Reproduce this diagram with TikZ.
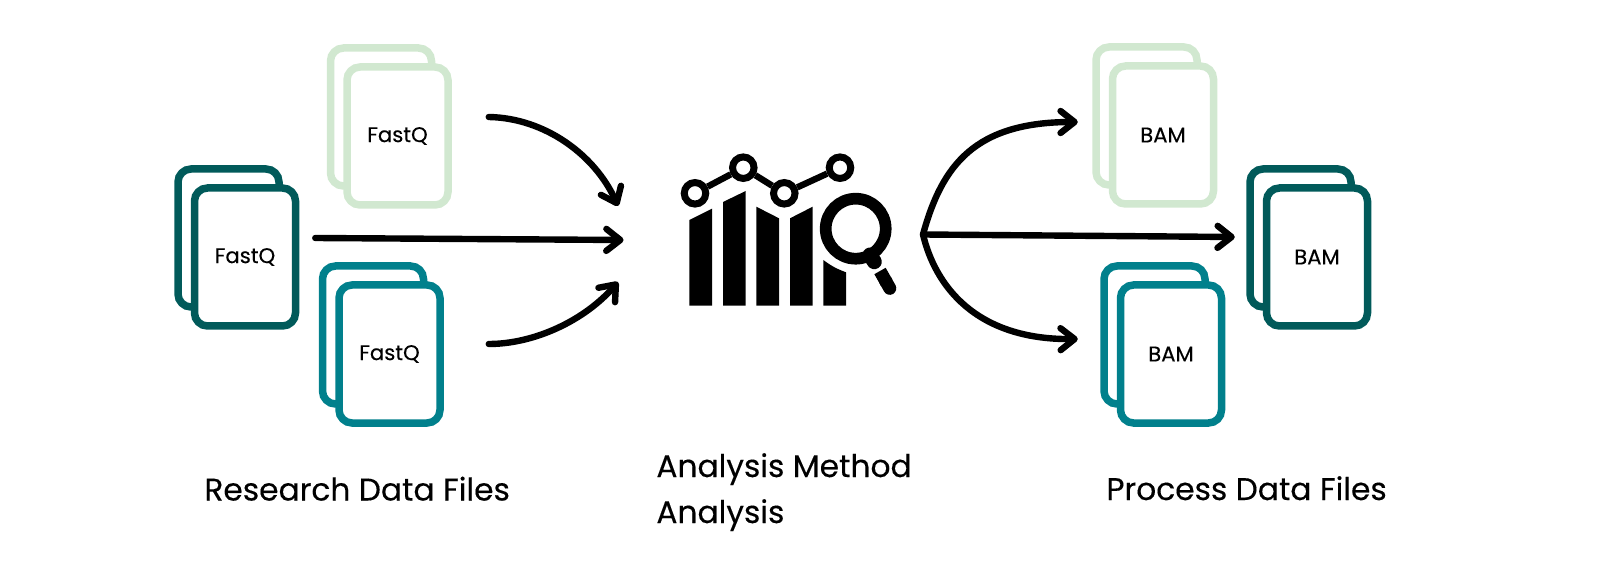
\documentclass[tikz,border=0pt]{standalone}
\usepackage{fontspec}
\setmainfont{Poppins}[FakeBold=0.25]
\usetikzlibrary{arrows.meta}
\definecolor{pale}{HTML}{D1E8D0}
\definecolor{deep}{HTML}{015A5A}
\definecolor{sea}{HTML}{01808C}
\tikzset{
	sheet/.style={draw=#1, fill=white, line width=3.75pt, rounded corners=6.5pt, minimum width=50.5pt, minimum height=69pt, inner sep=0pt, font=\fontsize{10.6}{13}\selectfont},
	flow/.style={line width=3.2pt, line cap=round, -{Straight Barb[length=7pt,width=11pt,round]}},
	dot/.style={circle, draw=black, fill=white, line width=3.5pt, minimum size=21.5*0.5pt, inner sep=0pt},
	caption/.style={inner sep=0pt, font=\fontsize{15.65}{23}\selectfont}
}
\begin{document}
\begin{tikzpicture}[x=0.5pt,y=-0.5pt]
\useasboundingbox (0,0) rectangle (1600,587);
% stacked files
\foreach \fname/\fx/\fy/\fcol/\ftext in {
	fqPale/397.5/136/pale/FastQ, fqDeep/245/257/deep/FastQ, fqSea/389.5/354/sea/FastQ,
	bamPale/1163/135/pale/BAM, bamSea/1171/354/sea/BAM, bamDeep/1317/257/deep/BAM}{
	\node[sheet=\fcol] (\fname back) at (\fx-16.5,\fy-19) {};
	\node[sheet=\fcol] (\fname) at (\fx,\fy) {\raisebox{-0.7pt}{\ftext}};
}
% chart bars
\foreach \bx/\ba/\bb in {689.3/220/208.7, 723/202/191, 756.3/206.7/218.3, 790/218.3/206.7}{
	\fill (\bx,\ba) -- ({\bx+22.7},\bb) -- ({\bx+22.7},305.7) -- (\bx,305.7) -- cycle;
}
\fill (823.3,260) to[bend right=8] (846,272.3) -- (846,305.7) -- (823.3,305.7) -- cycle;
% chart line
\node[dot] (ptA) at (695,193.3) {};
\node[dot] (ptB) at (743.3,167.7) {};
\node[dot] (ptC) at (784.3,193.3) {};
\node[dot] (ptD) at (840,167.7) {};
\draw[line width=3.2pt] (ptA) -- (ptB);
\draw[line width=3.2pt] (ptB) -- (ptC);
\draw[line width=3.2pt] (ptC) -- (ptD);
% magnifier
\draw[line width=5.85pt] (855.7,228.7) circle (30);
\draw[line width=7.5pt, line cap=round] (870,255) -- (874.3,261.7);
\draw[line width=6.5pt, -{Round Cap[]}] (880,271) -- (893,294);
% arrows in
\coordinate (inPale) at ([shift={(37,-19)}]fqPale.east);
\coordinate (inDeep) at ([shift={(16,-19)}]fqDeep.east);
\coordinate (inSea) at ([shift={(45,-10)}]fqSea.east);
\coordinate (sinkPale) at (618,206);
\coordinate (sinkDeep) at (623.5,240);
\coordinate (sinkSea) at (618,282);
\draw[flow] (inPale) .. controls (545,118) and (595,155) .. (sinkPale);
\draw[flow] (inDeep) -- (sinkDeep);
\draw[flow] (inSea) .. controls (535,344) and (585,320) .. (sinkSea);
% arrows out
\coordinate (hub) at (923,234.5);
\coordinate (outPale) at ([shift={(-31,-13)}]bamPale.west);
\coordinate (outDeep) at ([shift={(-28,-20)}]bamDeep.west);
\coordinate (outSea) at ([shift={(-39,-15)}]bamSea.west);
\draw[flow] (hub) .. controls (942,165) and (975,122) .. (outPale);
\draw[flow] (hub) -- (outDeep);
\draw[flow] (hub) .. controls (935,285) and (975,340) .. (outSea);
% captions
\node[caption, anchor=base west] (capIn) at (204,500.5) {Research Data Files};
\node[caption, anchor=base west, align=left] (capMid) at (656,523) {Analysis Method\\Analysis};
\node[caption, anchor=base west] (capOut) at (1106,500) {Process Data Files};
\end{tikzpicture}
\end{document}
